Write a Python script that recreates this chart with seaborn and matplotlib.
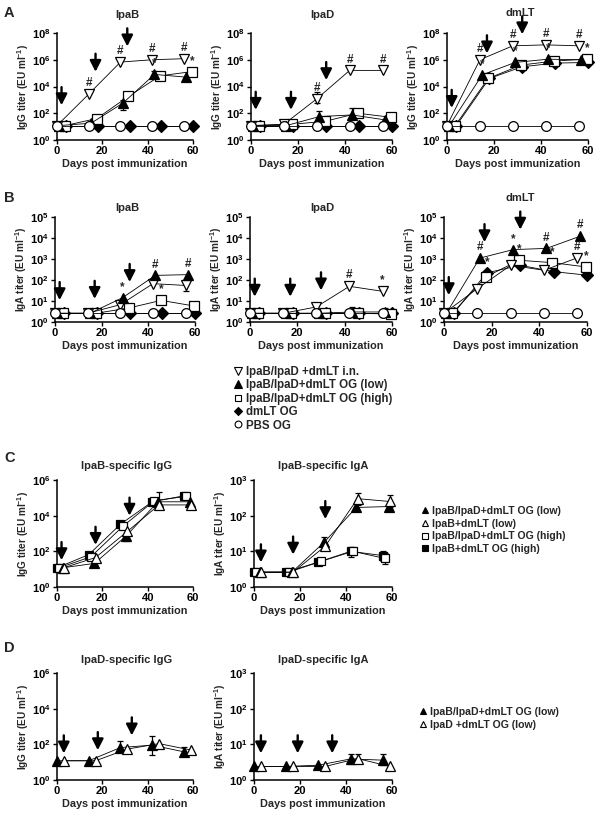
import numpy as np
import pandas as pd
import seaborn as sns
import matplotlib
matplotlib.use("Agg")
import matplotlib.pyplot as plt
from matplotlib.lines import Line2D
from matplotlib.ticker import FixedLocator, NullLocator

# ---------------- data ----------------
days = [0, 14, 28, 42, 56]

# Panel A : serum IgG titer (EU/ml)
a_ipab_in   = [12, 2700, 6.7e5, 1.0e6, 1.2e6]
a_ipab_low  = [12, 18, 560, 8e4, 5e4]
a_ipab_high = [12, 40, 1800, 6.3e4, 1.3e5]
a_ipab_dmlt = [12, 12, 12, 12, 12]
a_ipab_pbs  = [12, 12, 12, 12, 12]

a_ipad_in   = [12, 15, 1200, 1.6e5, 1.6e5]
a_ipad_low  = [12, 12, 56, 75, 32]
a_ipad_high = [12, 15, 25, 100, 50]
a_ipad_dmlt = [12, 12, 12, 12, 12]
a_ipad_pbs  = [12, 12, 12, 12, 12]

a_dmlt_in   = [12, 1e6, 1.1e7, 1.3e7, 1.1e7]
a_dmlt_low  = [12, 7.5e4, 6.3e5, 1.1e6, 1.0e6]
a_dmlt_high = [12, 4e4, 4e5, 8e5, 1.1e6]
a_dmlt_dmlt = [12, 4e4, 3e5, 5.6e5, 6.3e5]
a_dmlt_pbs  = [12, 12, 12, 12, 12]

# Panel B : IgA titer (EU/ml)
b_ipab_in   = [2.6, 2.6, 6.7, 67, 55]
b_ipab_low  = [2.6, 2.6, 14.5, 166, 180]
b_ipab_high = [2.6, 2.6, 4.6, 10.7, 5.8]
b_ipab_dmlt = [2.6, 2.6, 2.6, 2.6, 2.6]
b_ipab_pbs  = [2.6, 2.6, 2.6, 2.6, 2.6]

b_ipad_in   = [2.6, 2.6, 5.2, 50, 29]
b_ipad_low  = [2.6, 2.6, 2.6, 3.0, 3.0]
b_ipad_high = [2.6, 2.6, 2.6, 2.6, 2.4]
b_ipad_dmlt = [2.6, 2.6, 2.6, 2.6, 2.6]
b_ipad_pbs  = [2.6, 2.6, 2.6, 2.6, 2.6]

b_dmlt_in   = [2.6, 39, 500, 290, 1150]
b_dmlt_low  = [2.6, 1100, 2800, 3200, 1.2e4]
b_dmlt_high = [2.6, 140, 870, 670, 420]
b_dmlt_dmlt = [2.6, 220, 500, 250, 170]
b_dmlt_pbs  = [2.6, 2.6, 2.6, 2.6, 2.6]

# Panel C : IpaB-specific responses
c_igg_low       = [12, 21, 720, 6e4, 6e4]
c_igg_ipab_low  = [12, 45, 1300, 4e4, 4e4]
c_igg_high      = [12, 50, 2500, 7e4, 1.2e5]
c_igg_ipab_high = [12, 65, 3300, 6e4, 1.3e5]

c_iga_low       = [2.6, 2.6, 18, 170, 180]
c_iga_ipab_low  = [2.6, 2.6, 14, 300, 250]
c_iga_high      = [2.6, 2.6, 5.2, 10, 6.3]
c_iga_ipab_high = [2.6, 2.6, 5.0, 10, 7.6]

# Panel D : IpaD-specific responses
d_igg_low      = [12, 12, 66, 90, 38]
d_igg_ipad_low = [12, 12, 54, 110, 48]
d_iga_low      = [2.4, 2.4, 2.6, 3.9, 3.6]
d_iga_ipad_low = [2.4, 2.4, 2.4, 4.0, 2.4]

# error bars: (group, sampling index, lower, upper)
err_a_ipab = [("low", 2, 180, 900), ("low", 3, 5e4, 1.5e5)]
err_a_ipad = [("in", 2, 600, 4000), ("low", 2, 30, 150), ("low", 3, 40, 250)]
err_b_ipab = [("in", 4, 30, 70)]
err_b_ipad = [("low", 3, 2.6, 5.0), ("low", 4, 2.6, 4.5)]
err_c_igg  = [("ipab_low", 3, 3e4, 2e5), ("ipab_high", 4, 1e5, 1.7e5), ("low", 2, 400, 1000)]
err_c_iga  = [("ipab_low", 3, 200, 420), ("ipab_low", 4, 180, 380), ("low", 2, 12, 25),
              ("ipab_high", 3, 7, 13), ("high", 4, 4.5, 9), ("ipab_high", 4, 5.5, 10)]
err_d_igg  = [("low", 2, 40, 160), ("low", 3, 25, 300), ("low", 4, 25, 70)]
err_d_iga  = [("low", 3, 2.8, 5.5), ("low", 4, 2.7, 5.3), ("ipad_low", 3, 3.0, 5.4)]

# significance marks: (group, sampling index, symbol)
marks_a_ipab = [("in", 1, "#"), ("in", 2, "#"), ("in", 3, "#"), ("in", 4, "#"),
                ("low", 3, "*"), ("high", 4, "*")]
marks_a_ipad = [("in", 2, "#"), ("in", 3, "#"), ("in", 4, "#")]
marks_a_dmlt = [("in", 1, "#"), ("in", 2, "#"), ("in", 3, "#"), ("in", 4, "#"),
                ("low", 1, "*"), ("low", 2, "*"), ("low", 3, "*"), ("high", 4, "*")]
marks_b_ipab = [("low", 2, "*"), ("low", 3, "#"), ("low", 4, "#"), ("high", 3, "*")]
marks_b_ipad = [("in", 3, "#"), ("in", 4, "*")]
marks_b_dmlt = [("low", 1, "#"), ("dmlt", 1, "*"), ("low", 2, "*"), ("high", 2, "*"),
                ("low", 3, "#"), ("high", 3, "*"), ("low", 4, "#"), ("in", 4, "#"),
                ("high", 4, "*")]

# immunization arrows: (day, titer at arrow tip)
arr_a_ipab = [(2, 400), (17, 1.26e5), (31, 1e7)]
arr_a_ipad = [(2, 180), (17, 180), (32, 3e4)]
arr_a_dmlt = [(2, 250), (17, 3e6), (32, 8e7)]
arr_b_ipab = [(2, 11), (17, 12.6), (32, 80)]
arr_b_ipad = [(2, 16), (17, 16), (30, 32)]
arr_b_dmlt = [(2, 19), (17, 6300), (32, 2.5e4)]
arr_c_igg  = [(2, 32), (17, 230), (32, 1e4)]
arr_c_iga  = [(3, 4.9), (17, 8.1), (31, 80)]
arr_d_igg  = [(3, 31), (18, 47), (33, 316)]
arr_d_iga  = [(3, 5.6), (19, 5.6), (34, 5.6)]

labels_main = ["IpaB/IpaD +dmLT i.n.", "IpaB/IpaD+dmLT OG (low)",
               "IpaB/IpaD+dmLT OG (high)", "dmLT OG", "PBS OG"]
labels_c = ["IpaB/IpaD+dmLT OG (low)", "IpaB+dmLT (low)",
            "IpaB/IpaD+dmLT OG (high)", "IpaB+dmLT OG (high)"]
labels_d = ["IpaB/IpaD+dmLT OG (low)", "IpaD +dmLT OG (low)"]

# ---------------- style ----------------
sns.set_theme(style="ticks")
plt.rcParams["font.family"] = ["Liberation Sans", "DejaVu Sans"]
plt.rcParams["font.weight"] = "bold"
plt.rcParams["mathtext.fontset"] = "custom"
plt.rcParams["mathtext.rm"] = "Liberation Sans:bold"
plt.rcParams["mathtext.bf"] = "Liberation Sans:bold"
plt.rcParams["mathtext.it"] = "Liberation Sans:bold"

STYLE = {
    "in":        dict(marker="v", mfc="white", ms=7.5, off=0.0, z=4),
    "low":       dict(marker="^", mfc="black", ms=7.5, off=1.0, z=5),
    "high":      dict(marker="s", mfc="white", ms=6.5, off=3.5, z=3),
    "dmlt":      dict(marker="D", mfc="black", ms=6.3, off=4.0, z=2),
    "pbs":       dict(marker="o", mfc="white", ms=7.0, off=0.0, z=6),
}
STYLE_C = {
    "ipab_high": dict(marker="s", mfc="black", ms=6.0, off=0.0, z=2),
    "high":      dict(marker="s", mfc="white", ms=6.0, off=1.0, z=3),
    "low":       dict(marker="^", mfc="black", ms=7.0, off=2.5, z=4),
    "ipab_low":  dict(marker="^", mfc="white", ms=7.0, off=3.0, z=5),
}
STYLE_D = {
    "low":       dict(marker="^", mfc="black", ms=7.0, off=0.0, z=4),
    "ipad_low":  dict(marker="^", mfc="white", ms=7.0, off=3.0, z=5),
}

W, H = 602, 817
fig = plt.figure(figsize=(W / 100, H / 100), dpi=100)


def add_ax(l, t, r, b):
    return fig.add_axes([l / W, 1 - b / H, (r - l) / W, (b - t) / H])


def ftext(x, y, s, **kw):
    fig.text(x / W, 1 - y / H, s, **kw)


def panel(ax, series, styles, ymax_exp, tick_exps, ylabel, errs=(), marks=(), arrows=()):
    ax.set_yscale("log")
    for g, vals in series.items():
        st = styles[g]
        df = pd.DataFrame({"day": np.array(days, dtype=float) + st["off"], "titer": vals})
        sns.lineplot(data=df, x="day", y="titer", ax=ax, color="black", lw=0.6,
                     marker=st["marker"], markersize=st["ms"], markerfacecolor=st["mfc"],
                     markeredgecolor="black", markeredgewidth=0.9, errorbar=None,
                     clip_on=False, zorder=st["z"], legend=False)
    for g, i, lo, hi in errs:
        st = styles[g]
        x = days[i] + st["off"]
        y = series[g][i]
        ax.errorbar([x], [y], yerr=[[y - lo], [hi - y]], fmt="none", ecolor="black",
                    elinewidth=0.9, capsize=2.5, capthick=0.9, zorder=1, clip_on=False)
    for g, i, sym in marks:
        st = styles[g]
        ax.annotate(sym, xy=(days[i] + st["off"], series[g][i]), xytext=(0, 3.5),
                    textcoords="offset points", ha="center", va="bottom",
                    fontsize=8.5, fontweight="bold", annotation_clip=False, zorder=8)
    for x, tip in arrows:
        ax.annotate("", xy=(x, tip), xytext=(0, 13), textcoords="offset points",
                    xycoords="data", annotation_clip=False,
                    arrowprops=dict(arrowstyle="-|>,head_length=0.55,head_width=0.28",
                                    color="black", lw=1.7, shrinkA=0, shrinkB=0))
    ax.set_xlim(0, 60)
    ax.set_ylim(1, 10 ** ymax_exp)
    ax.yaxis.set_major_locator(FixedLocator([10.0 ** e for e in tick_exps]))
    ax.yaxis.set_minor_locator(NullLocator())
    ax.set_yticklabels([rf"$\mathbf{{10^{{{e}}}}}$" for e in tick_exps])
    ax.set_xticks([0, 20, 40, 60])
    ax.set_xticklabels(["0", "20", "40", "60"])
    for s in ["top", "right"]:
        ax.spines[s].set_visible(False)
    for s in ["left", "bottom"]:
        ax.spines[s].set_linewidth(1.1)
        ax.spines[s].set_color("black")
    ax.tick_params(direction="out", length=3, width=1.0, labelsize=8, pad=1.5,
                   colors="black")
    ax.set_xlabel("Days post immunization", fontsize=7.8, fontweight="bold", labelpad=2)
    ax.set_ylabel(ylabel, fontsize=7.2, fontweight="bold", labelpad=1)
    ax.set_facecolor("none")
    ax.grid(False)


igg = r"IgG titer (EU ml$^{-1}$)"
iga = r"IgA titer (EU ml$^{-1}$)"

# ---- Panel A ----
axA1 = add_ax(57, 33, 193, 140)
panel(axA1, {"dmlt": a_ipab_dmlt, "high": a_ipab_high, "low": a_ipab_low,
             "in": a_ipab_in, "pbs": a_ipab_pbs}, STYLE, 8, [0, 2, 4, 6, 8], igg,
      err_a_ipab, marks_a_ipab, arr_a_ipab)
axA2 = add_ax(251, 33, 392, 140)
panel(axA2, {"dmlt": a_ipad_dmlt, "high": a_ipad_high, "low": a_ipad_low,
             "in": a_ipad_in, "pbs": a_ipad_pbs}, STYLE, 8, [0, 2, 4, 6, 8], igg,
      err_a_ipad, marks_a_ipad, arr_a_ipad)
axA3 = add_ax(447, 33, 588, 140)
panel(axA3, {"dmlt": a_dmlt_dmlt, "high": a_dmlt_high, "low": a_dmlt_low,
             "in": a_dmlt_in, "pbs": a_dmlt_pbs}, STYLE, 8, [0, 2, 4, 6, 8], igg,
      (), marks_a_dmlt, arr_a_dmlt)

# ---- Panel B ----
axB1 = add_ax(55, 217, 195, 322)
panel(axB1, {"dmlt": b_ipab_dmlt, "high": b_ipab_high, "low": b_ipab_low,
             "in": b_ipab_in, "pbs": b_ipab_pbs}, STYLE, 5, [0, 1, 2, 3, 4, 5], iga,
      err_b_ipab, marks_b_ipab, arr_b_ipab)
axB2 = add_ax(250, 217, 392, 322)
panel(axB2, {"dmlt": b_ipad_dmlt, "high": b_ipad_high, "low": b_ipad_low,
             "in": b_ipad_in, "pbs": b_ipad_pbs}, STYLE, 5, [0, 1, 2, 3, 4, 5], iga,
      err_b_ipad, marks_b_ipad, arr_b_ipad)
axB3 = add_ax(444, 217, 587, 322)
panel(axB3, {"dmlt": b_dmlt_dmlt, "high": b_dmlt_high, "low": b_dmlt_low,
             "in": b_dmlt_in, "pbs": b_dmlt_pbs}, STYLE, 5, [0, 1, 2, 3, 4, 5], iga,
      (), marks_b_dmlt, arr_b_dmlt)

# ---- Panel C ----
axC1 = add_ax(57, 480, 193, 587)
panel(axC1, {"ipab_high": c_igg_ipab_high, "high": c_igg_high, "low": c_igg_low,
             "ipab_low": c_igg_ipab_low}, STYLE_C, 6, [0, 2, 4, 6], igg,
      err_c_igg, (), arr_c_igg)
axC2 = add_ax(254, 480, 392, 587)
panel(axC2, {"ipab_high": c_iga_ipab_high, "high": c_iga_high, "low": c_iga_low,
             "ipab_low": c_iga_ipab_low}, STYLE_C, 3, [0, 1, 2, 3], iga,
      err_c_iga, (), arr_c_iga)

# ---- Panel D ----
axD1 = add_ax(57, 673, 193, 780)
panel(axD1, {"low": d_igg_low, "ipad_low": d_igg_ipad_low}, STYLE_D, 6, [0, 2, 4, 6], igg,
      err_d_igg, (), arr_d_igg)
axD2 = add_ax(254, 673, 392, 780)
panel(axD2, {"low": d_iga_low, "ipad_low": d_iga_ipad_low}, STYLE_D, 3, [0, 1, 2, 3], iga,
      err_d_iga, (), arr_d_iga)

# ---- titles & panel letters ----
tkw = dict(ha="center", va="center", fontsize=8, fontweight="bold")
ftext(127, 15, "IpaB", **tkw)
ftext(322, 15, "IpaD", **tkw)
ftext(520, 13, "dmLT", **tkw)
ftext(127, 208, "IpaB", **tkw)
ftext(322, 208, "IpaD", **tkw)
ftext(520, 198, "dmLT", **tkw)
ftext(127, 466, "IpaB-specific IgG", **tkw)
ftext(323, 466, "IpaB-specific IgA", **tkw)
ftext(127, 660, "IpaD-specific IgG", **tkw)
ftext(323, 660, "IpaD-specific IgA", **tkw)
lkw = dict(ha="left", va="center", fontsize=10.5, fontweight="bold")
ftext(4, 13, "A", **lkw)
ftext(4, 198, "B", **lkw)
ftext(4, 458, "C", **lkw)
ftext(4, 648, "D", **lkw)


# ---- legends ----
def handles(styles, keys):
    return [Line2D([], [], ls="None", marker=styles[k]["marker"], color="black",
                   mfc=styles[k]["mfc"], mec="black", mew=0.8,
                   ms=styles[k]["ms"] * 0.7) for k in keys]


leg_kw = dict(loc="upper left", frameon=False, handlelength=0.7, handletextpad=0.35,
              labelspacing=0.12, borderpad=0, borderaxespad=0,
              prop=dict(family=["Liberation Sans Narrow", "Liberation Sans"],
                        weight="bold", size=8.3))
fig.legend(handles(STYLE, ["in", "low", "high", "dmlt", "pbs"]), labels_main,
           bbox_to_anchor=(234 / W, 1 - 366 / H), **leg_kw)
leg_kw2 = dict(leg_kw)
leg_kw2["prop"] = dict(family=["Liberation Sans"], weight="bold", size=7.6)
leg_kw2["labelspacing"] = 0.25
fig.legend(handles(STYLE_C, ["low", "ipab_low", "high", "ipab_high"]), labels_c,
           bbox_to_anchor=(421 / W, 1 - 506 / H), **leg_kw2)
fig.legend(handles(STYLE_D, ["low", "ipad_low"]), labels_d,
           bbox_to_anchor=(419 / W, 1 - 707 / H), **leg_kw2)

fig.savefig("out.png", dpi=100, facecolor="white")
